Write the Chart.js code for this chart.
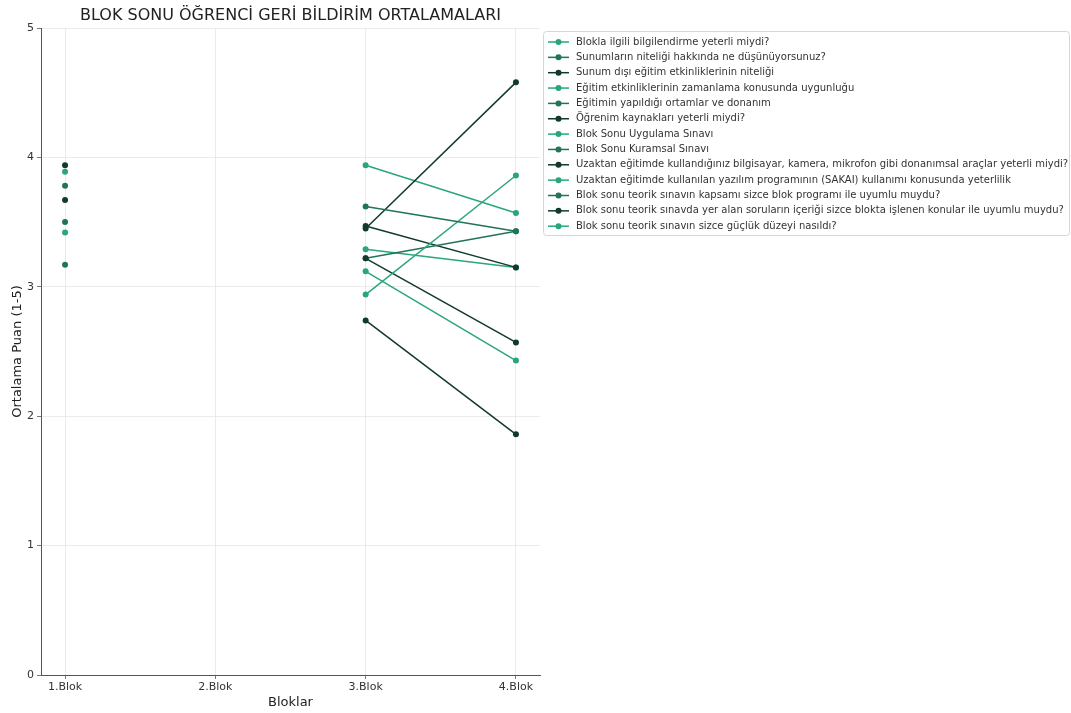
<!DOCTYPE html>
<html>
<head>
<meta charset="utf-8">
<script src="https://cdn.jsdelivr.net/npm/chart.js@4.4.1/dist/chart.umd.min.js"></script>
<style>
  html, body { margin: 0; padding: 0; background: #fff; }
  #wrap { width: 1071px; height: 713px; }
</style>
</head>
<body>
<div id="wrap"><canvas id="chart" width="1071" height="713"></canvas></div>
<script>
const blokLabels = ['1.Blok', '2.Blok', '3.Blok', '4.Blok'];
const yTicks = [0, 1, 2, 3, 4, 5];

const questions = [
  'Blokla ilgili bilgilendirme yeterli miydi?',
  'Sunumların niteliği hakkında ne düşünüyorsunuz?',
  'Sunum dışı eğitim etkinliklerinin niteliği',
  'Eğitim etkinliklerinin zamanlama konusunda uygunluğu',
  'Eğitimin yapıldığı ortamlar ve donanım',
  'Öğrenim kaynakları yeterli miydi?',
  'Blok Sonu Uygulama Sınavı',
  'Blok Sonu Kuramsal Sınavı',
  'Uzaktan eğitimde kullandığınız bilgisayar, kamera, mikrofon gibi donanımsal araçlar yeterli miydi?',
  'Uzaktan eğitimde kullanılan yazılım programının (SAKAI) kullanımı konusunda yeterlilik',
  'Blok sonu teorik sınavın kapsamı sizce blok programı ile uyumlu muydu?',
  'Blok sonu teorik sınavda yer alan soruların içeriği sizce blokta işlenen konular ile uyumlu muydu?',
  'Blok sonu teorik sınavın sizce güçlük düzeyi nasıldı?',
];

// one row per question, one value per block (null = no data)
const bilgilendirme = [3.89, null, 3.29, 3.15];
const sunumlar      = [3.78, null, null, null];
const sunumDisi     = [3.94, null, 3.47, 3.15];
const zamanlama     = [null, null, 3.94, 3.57];
const ortamlar      = [3.50, null, 3.22, 3.43];
const kaynaklar     = [3.67, null, 3.22, 2.57];
const uygulama      = [3.42, null, null, null];
const kuramsal      = [3.17, null, null, null];
const donanim       = [null, null, 3.45, 4.58];
const sakai         = [null, null, 2.94, 3.86];
const kapsam        = [null, null, 3.62, 3.43];
const icerik        = [null, null, 2.74, 1.86];
const gucluk        = [null, null, 3.12, 2.43];

const series = [bilgilendirme, sunumlar, sunumDisi, zamanlama, ortamlar, kaynaklar,
  uygulama, kuramsal, donanim, sakai, kapsam, icerik, gucluk];

const palette = ['#29a67e', '#1f7558', '#11392c'];

const datasets = series.map((vals, i) => ({
  label: questions[i],
  data: vals.map((v, j) => ({ x: j, y: v })),
  borderColor: palette[i % 3],
  backgroundColor: palette[i % 3],
  borderWidth: 1.5,
  pointRadius: 3,
  pointBorderWidth: 0,
  spanGaps: false,
  order: series.length - i,
}));

const FONT = '"DejaVu Sans", sans-serif';

const extras = {
  id: 'extras',
  afterDraw(chart) {
    const ctx = chart.ctx;
    const area = chart.chartArea;
    ctx.save();
    // title
    ctx.fillStyle = '#222';
    ctx.font = '16px ' + FONT;
    ctx.textAlign = 'center';
    ctx.textBaseline = 'middle';
    ctx.fillText('BLOK SONU ÖĞRENCİ GERİ BİLDİRİM ORTALAMALARI', (area.left + area.right) / 2, 16);

    // legend
    const lx = 543, ly = 31, lw = 526, lh = 204, row = 15.35;
    ctx.fillStyle = 'rgba(255,255,255,0.9)';
    ctx.strokeStyle = '#d6d6d6';
    ctx.lineWidth = 1;
    ctx.beginPath();
    ctx.roundRect(lx + 0.5, ly + 0.5, lw, lh, 3);
    ctx.fill();
    ctx.stroke();
    ctx.font = '10px ' + FONT;
    ctx.textAlign = 'left';
    chart.data.datasets.forEach((ds, i) => {
      const y = ly + 11 + i * row;
      ctx.strokeStyle = ds.borderColor;
      ctx.lineWidth = 1.5;
      ctx.beginPath();
      ctx.moveTo(548, y);
      ctx.lineTo(569, y);
      ctx.stroke();
      ctx.fillStyle = ds.backgroundColor;
      ctx.beginPath();
      ctx.arc(558.5, y, 3, 0, Math.PI * 2);
      ctx.fill();
      ctx.fillStyle = '#333';
      ctx.fillText(ds.label, 576, y);
    });
    ctx.restore();
  },
};

new Chart(document.getElementById('chart'), {
  type: 'line',
  data: { datasets },
  plugins: [extras],
  options: {
    responsive: false,
    animation: false,
    events: [],
    layout: { padding: { top: 28, right: 531, bottom: 0, left: 0 } },
    plugins: { legend: { display: false }, tooltip: { enabled: false }, title: { display: false } },
    scales: {
      x: {
        type: 'linear',
        min: -0.16,
        max: 3.16,
        afterFit(scale) { scale.height = 38; },
        afterBuildTicks(scale) { scale.ticks = blokLabels.map((_, i) => ({ value: i })); },
        ticks: {
          includeBounds: false,
          stepSize: 1,
          padding: 2,
          color: '#333',
          font: { family: FONT, size: 11 },
          callback: (v) => blokLabels[v] ?? '',
        },
        grid: { color: '#e6e6e6', lineWidth: 0.8, tickColor: '#555', tickLength: 4 },
        border: { color: '#555', width: 1 },
        title: {
          display: true,
          text: 'Bloklar',
          color: '#222',
          font: { family: FONT, size: 13 },
          padding: { top: 0, bottom: 3 },
        },
      },
      y: {
        min: 0,
        max: 5,
        afterFit(scale) { scale.width = 41; },
        afterBuildTicks(scale) { scale.ticks = yTicks.map((v) => ({ value: v })); },
        ticks: {
          stepSize: 1,
          padding: 3,
          color: '#333',
          font: { family: FONT, size: 11 },
        },
        grid: { color: '#e6e6e6', lineWidth: 0.8, tickColor: '#555', tickLength: 4 },
        border: { color: '#555', width: 1 },
        title: {
          display: true,
          text: 'Ortalama Puan (1-5)',
          color: '#222',
          font: { family: FONT, size: 13 },
          padding: { top: 10, bottom: 0 },
        },
      },
    },
  },
});
</script>
</body>
</html>
